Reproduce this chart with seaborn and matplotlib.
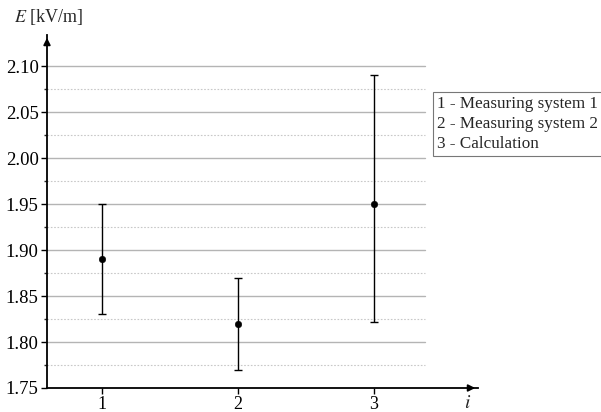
import numpy as np
import pandas as pd
import matplotlib
matplotlib.use("Agg")
import matplotlib.pyplot as plt
import seaborn as sns

# Measured field strength per method
IDX = [1, 2, 3]
E_MEAN = [1.89, 1.82, 1.95]
E_LOW = [1.83, 1.77, 1.822]
E_HIGH = [1.95, 1.87, 2.09]
LEGEND_LINES = ["1 - Measuring system 1", "2 - Measuring system 2", "3 - Calculation"]
Y_TICKS = [1.75, 1.80, 1.85, 1.90, 1.95, 2.00, 2.05, 2.10]

sns.set_style("ticks")
plt.rcParams['font.family'] = ['Liberation Serif', 'DejaVu Serif']
plt.rcParams['mathtext.fontset'] = 'stix'

df = pd.DataFrame({'i': IDX, 'E': E_MEAN, 'lo': E_LOW, 'hi': E_HIGH})

fig = plt.figure(figsize=(6.01, 4.12), dpi=100)
ax = fig.add_axes([47 / 601, 1 - 388 / 412, (478 - 47) / 601, (388 - 35) / 412])
ax.set_xlim(0.594, 3.77)
ax.set_ylim(1.75, 2.134)

# grid lines, limited to the plotting area left of the legend
gx = (3.38 - 0.594) / (3.77 - 0.594)
for y in Y_TICKS[1:]:
    ax.axhline(y, xmin=0, xmax=gx, color='#b4b4b4', lw=1.0, zorder=0)
for y in np.array(Y_TICKS[:-1]) + 0.025:
    ax.axhline(y, xmin=0, xmax=gx, color='#c8c8c8', lw=0.8, ls=(0, (1.5, 1.5)), zorder=0)

ax.errorbar(df['i'], df['E'], yerr=[df['E'] - df['lo'], df['hi'] - df['E']],
            fmt='none', ecolor='black', elinewidth=1.0, capsize=3, capthick=1.0, zorder=2)
sns.scatterplot(data=df, x='i', y='E', color='black', s=22, edgecolor='black', ax=ax, zorder=3, legend=False)

sns.despine(ax=ax, top=True, right=True)
for s in ['left', 'bottom']:
    ax.spines[s].set_linewidth(1.3)
    ax.spines[s].set_color('black')

# axis arrows
ax.annotate('', xy=(1.0, 0), xycoords='axes fraction', xytext=(0.97, 0),
            arrowprops=dict(arrowstyle='-|>', color='black', lw=1.3, mutation_scale=10))
ax.annotate('', xy=(0, 1.0), xycoords='axes fraction', xytext=(0, 0.97),
            arrowprops=dict(arrowstyle='-|>', color='black', lw=1.3, mutation_scale=10))

ax.set_xticks(IDX)
ax.set_xticklabels([str(v) for v in IDX])
ax.set_yticks(Y_TICKS)
ax.set_yticklabels([f"{v:.2f}" for v in Y_TICKS])
ax.set_yticks(np.array(Y_TICKS[:-1]) + 0.025, minor=True)
ax.tick_params(axis='both', which='major', direction='out', length=4, width=1, labelsize=13.5, colors='black')
ax.tick_params(axis='x', which='major', pad=1.5, labelsize=13)
ax.tick_params(axis='y', which='major', pad=2)
ax.tick_params(axis='y', which='minor', direction='out', length=2.5, width=1)
ax.set_xlabel('')
ax.set_ylabel('')

fig.text(14 / 601, 1 - 17 / 412, '$E$ [kV/m]', fontsize=13, ha='left', va='center')
fig.text(468 / 601, 1 - 403 / 412, '$i$', fontsize=14, ha='center', va='center')

fig.text(437 / 601, 1 - 124 / 412, "\n".join(LEGEND_LINES), fontsize=12.3, ha='left', va='center',
         linespacing=1.3,
         bbox=dict(boxstyle='square,pad=0.25', facecolor='white', edgecolor='#777777', lw=0.8))

fig.savefig('out.png', dpi=100)
